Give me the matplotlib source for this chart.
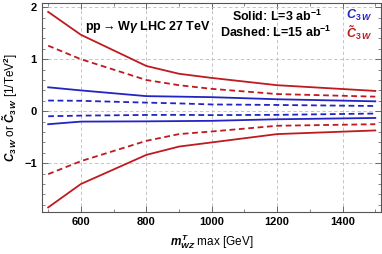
import numpy as np
import matplotlib.pyplot as plt
from matplotlib.ticker import MultipleLocator

plt.rcParams['font.family'] = ['Liberation Sans', 'DejaVu Sans']
plt.rcParams['font.weight'] = 'bold'
plt.rcParams['mathtext.fontset'] = 'custom'
plt.rcParams['mathtext.rm'] = 'Liberation Sans:bold'
plt.rcParams['mathtext.it'] = 'Liberation Sans:italic:bold'
plt.rcParams['mathtext.bf'] = 'Liberation Sans:bold'

# m_WZ^T max cut [GeV]
mT = [500, 600, 800, 900, 1000, 1200, 1500]

# C3W bounds (blue)
c3w_up_3 = [0.46, 0.40, 0.29, 0.28, 0.27, 0.23, 0.19]
c3w_lo_3 = [-0.25, -0.20, -0.195, -0.19, -0.185, -0.155, -0.13]
c3w_up_15 = [0.205, 0.20, 0.165, 0.15, 0.13, 0.12, 0.10]
c3w_lo_15 = [-0.097, -0.085, -0.072, -0.07, -0.075, -0.07, -0.045]

# C3W tilde bounds (red)
ct3w_up_3 = [1.91, 1.47, 0.87, 0.72, 0.64, 0.50, 0.39]
ct3w_lo_3 = [-1.85, -1.40, -0.84, -0.68, -0.60, -0.44, -0.37]
ct3w_up_15 = [1.26, 1.00, 0.60, 0.50, 0.43, 0.33, 0.28]
ct3w_lo_15 = [-1.21, -0.96, -0.57, -0.44, -0.39, -0.28, -0.25]

blue = '#2424c4'
red = '#bf1a1f'
dash = (3.2, 2.0)
lw = 1.3

W, H = 382, 254
fig = plt.figure(figsize=(W / 100, H / 100), dpi=100)
ax = fig.add_axes([0.109, 0.165, 0.888, 0.823])

ax.plot(mT, ct3w_up_3, color=red, lw=lw)
ax.plot(mT, ct3w_lo_3, color=red, lw=lw)
ax.plot(mT, ct3w_up_15, color=red, lw=lw, dashes=dash)
ax.plot(mT, ct3w_lo_15, color=red, lw=lw, dashes=dash)
ax.plot(mT, c3w_up_3, color=blue, lw=lw)
ax.plot(mT, c3w_lo_3, color=blue, lw=lw)
ax.plot(mT, c3w_up_15, color=blue, lw=lw, dashes=dash)
ax.plot(mT, c3w_lo_15, color=blue, lw=lw, dashes=dash)

ax.set_xlim(480, 1517)
ax.set_ylim(-1.94, 2.08)
ax.xaxis.set_major_locator(MultipleLocator(200))
ax.xaxis.set_minor_locator(MultipleLocator(100))
ax.yaxis.set_major_locator(MultipleLocator(1))
ax.yaxis.set_minor_locator(MultipleLocator(0.2))
ax.tick_params(which='both', direction='in', top=True, right=True,
               labelsize=8, color='#555555')
ax.tick_params(which='major', length=4.5, width=0.6)
ax.tick_params(which='minor', length=2.5, width=0.5)
for s in ax.spines.values():
    s.set_color('#555555')
    s.set_linewidth(0.8)
ax.grid(True, which='major', ls=(0, (4, 3)), color='#bbbbbb', lw=0.6)
ax.set_axisbelow(True)

ax.set_xlabel(r'$m_{WZ}^{T}$ max [GeV]', fontsize=8.5, labelpad=4)
ax.set_ylabel(r'$C_{3\,W}$ or $\tilde{C}_{3\,W}$ [1/TeV$^2$]', fontsize=8.5, labelpad=3)


def px_text(x, y, s, **kw):
    # place text by pixel position measured from the top-left corner
    fig.text(x / W, 1 - y / H, s, fontsize=9, ha='center', va='center', **kw)


px_text(148, 27, r'pp$\rightarrow$W$\gamma$ LHC 27 TeV')
px_text(277, 16, r'Solid: L=3 ab$^{-1}$')
px_text(276, 32, r'Dashed: L=15 ab$^{-1}$')
px_text(359, 15, r'$C_{3\,W}$', color=blue)
px_text(359, 33, r'$\tilde{C}_{3\,W}$', color=red)

plt.savefig('out.png', dpi=100)
